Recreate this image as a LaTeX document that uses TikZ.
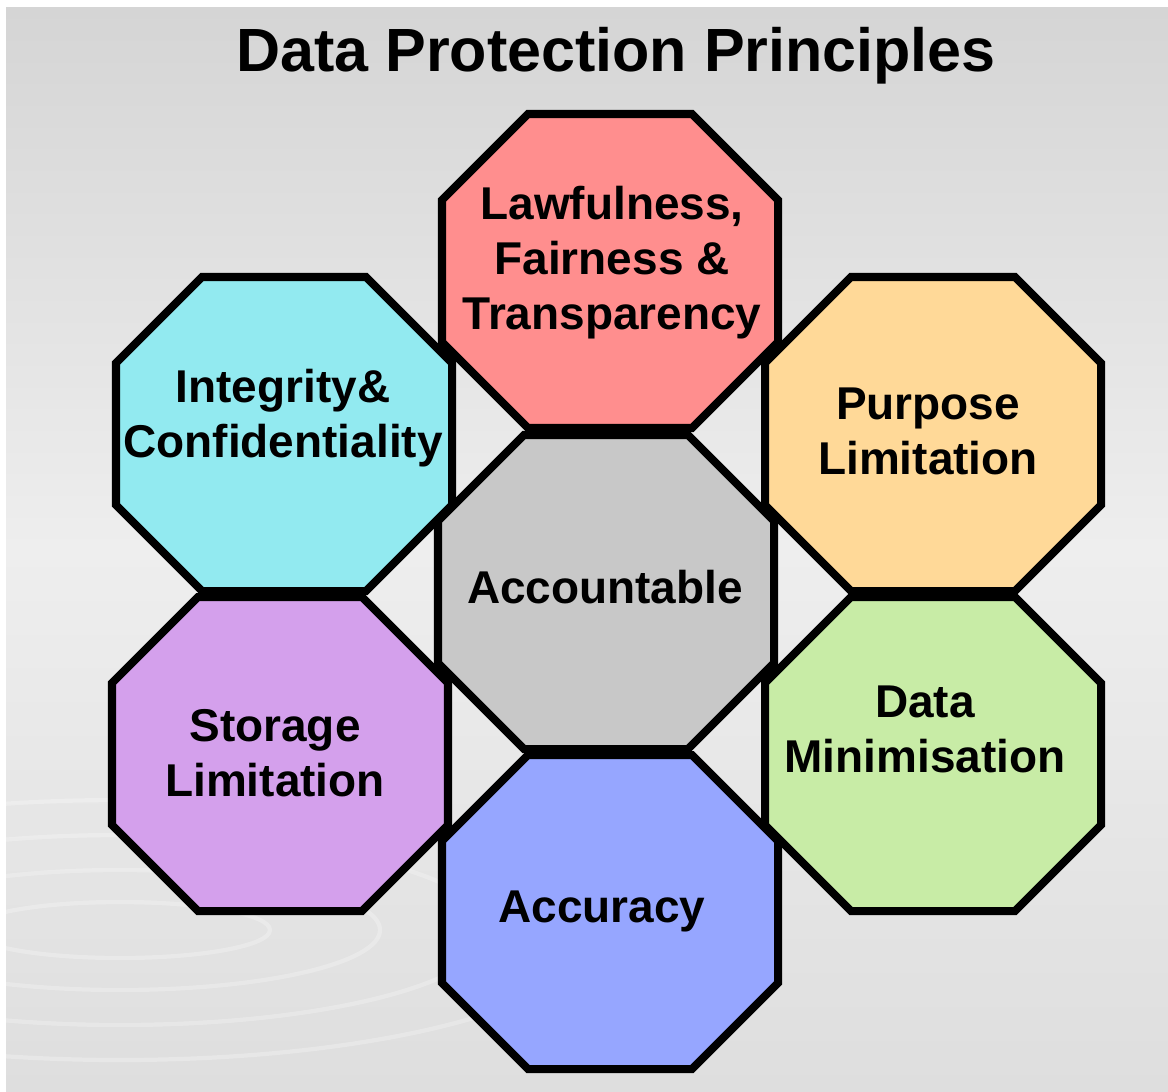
\documentclass[tikz,border=0pt]{standalone}
\usepackage{fontspec}
\setmainfont{Liberation Sans}
\usetikzlibrary{calc,positioning}
\definecolor{lawred}{RGB}{255,142,142}
\definecolor{intcyan}{RGB}{146,234,240}
\definecolor{purporange}{RGB}{255,217,152}
\definecolor{accgray}{RGB}{200,200,200}
\definecolor{storpurple}{RGB}{212,160,236}
\definecolor{minigreen}{RGB}{200,236,166}
\definecolor{accublue}{RGB}{150,166,255}
\definecolor{bgtop}{RGB}{213,213,213}
\definecolor{bgmid}{RGB}{238,238,238}
\definecolor{bgbot}{RGB}{222,222,222}

\begin{document}
\begin{tikzpicture}[x=0.025cm,y=-0.025cm,font=\bfseries\fontsize{32.7}{39.1}\selectfont,align=center,
  octa/.style={draw=black,line width=5.7pt,line join=miter}]
   \def\ha{168}
   \def\hb{157}
   \def\ct{86}
   \useasboundingbox (0,0) rectangle (1168,1091);
   \fill[white] (0,0) rectangle (1168,1091);
   \shade[top color=bgtop,bottom color=bgbot,middle color=bgmid] (6,8) rectangle (1168,1091);
   \begin{scope}
    \clip (6,8) rectangle (1168,1091);
    \foreach \rx/\ry in {150/28,260/60,370/95,480/130}
     {\draw[white,opacity=.25,line width=3pt] (120,930) ellipse [x radius=\rx, y radius=\ry];}
   \end{scope}
   \foreach \nm/\cx/\cy/\col in {lawful/610/271/lawred,integ/284/434/intcyan,purp/933/434/purporange,stor/280/754/storpurple,mini/933/754/minigreen,accu/610/912/accublue,account/606/592/accgray} {
    \coordinate (\nm) at (\cx,\cy);
    \draw[octa,fill=\col] ($(\nm)+(-\ha+\ct,-\hb)$) -- ($(\nm)+(\ha-\ct,-\hb)$) -- ($(\nm)+(\ha,-\hb+\ct)$) -- ($(\nm)+(\ha,\hb-\ct)$) -- ($(\nm)+(\ha-\ct,\hb)$) -- ($(\nm)+(-\ha+\ct,\hb)$) -- ($(\nm)+(-\ha,\hb-\ct)$) -- ($(\nm)+(-\ha,-\hb+\ct)$) -- cycle;
   }
   \node (titletxt) [anchor=base,font=\bfseries\fontsize{43.4}{52}\selectfont] at (616,72) {Data Protection Principles};
   \node (lawfultxt) at (612,263) {Lawfulness,\\Fairness \&\\Transparency};
   \node (integtxt) at (283,418) {Integrity\&\\Confidentiality};
   \node (purptxt) at (928,431) {Purpose\\Limitation};
   \node (accounttxt) [anchor=base] at (605,603) {Accountable};
   \node (stortxt) at (275,753) {Storage\\Limitation};
   \node (minitxt) at (925,729) {Data\\Minimisation};
   \node (accutxt) [anchor=base] at (602,922) {Accuracy};
\end{tikzpicture}
\end{document}
